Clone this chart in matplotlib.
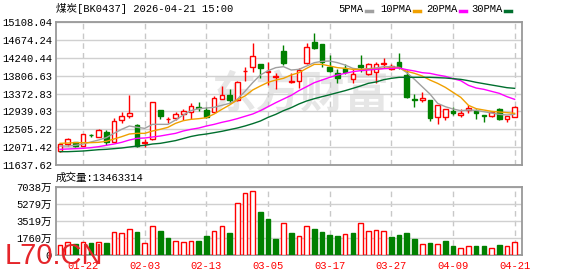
import matplotlib
matplotlib.use('Agg')
import matplotlib.pyplot as plt
from matplotlib.patches import Rectangle
from matplotlib.lines import Line2D

plt.rcParams['font.family'] = ['Liberation Mono', 'Noto Sans CJK SC', 'DejaVu Sans']

#=====data===================================#
dates = ['01-19', '01-20', '01-21', '01-22', '01-23', '01-26', '01-27', '01-28', '01-29', '01-30',
         '02-02', '02-03', '02-04', '02-05', '02-06', '02-09', '02-10', '02-11', '02-12', '02-13',
         '02-24', '02-25', '02-26', '02-27', '03-02', '03-03', '03-04', '03-05', '03-06', '03-09',
         '03-10', '03-11', '03-12', '03-13', '03-16', '03-17', '03-18', '03-19', '03-20', '03-23',
         '03-24', '03-25', '03-26', '03-27', '03-30', '03-31', '04-01', '04-02', '04-03', '04-07',
         '04-08', '04-09', '04-10', '04-13', '04-14', '04-15', '04-16', '04-17', '04-20', '04-21']

opens = [11978, 12140, 12188, 12106, 12365, 12325, 12431, 12203, 12738, 12834,
         12601, 12180, 12261, 12972, 12745, 12785, 12883, 12916, 13050, 12972,
         12932, 13248, 13336, 13215, 13910, 14016, 14089, 13895, 13780, 14411,
         13650, 13684, 14106, 14615, 14567, 14023, 13862, 13984, 13725, 14057,
         13838, 13887, 14100, 13960, 14130, 13822, 13248, 13208, 13215, 12795,
         12795, 12956, 12843, 12972, 12948, 12850, 12834, 12989, 12754, 12795]
highs = [12150, 12293, 12200, 12390, 12390, 12500, 12487, 12779, 12932, 13336,
         12633, 12261, 13159, 12980, 12810, 12916, 12989, 13135, 13159, 13038,
         13313, 13555, 13475, 13676, 14016, 14598, 14089, 14130, 13862, 14550,
         13860, 13984, 14606, 14834, 14575, 14307, 13960, 14081, 14000, 14307,
         14106, 14145, 14227, 14081, 14348, 13943, 13361, 13416, 13215, 13094,
         13000, 13038, 12989, 13094, 12989, 12860, 12916, 13013, 12835, 13070]
lows = [11965, 12098, 12075, 12100, 12310, 12315, 12130, 12195, 12649, 12785,
        12074, 12082, 12255, 12761, 12649, 12729, 12730, 12761, 12956, 12770,
        12930, 13240, 13151, 13190, 13676, 13895, 13756, 13578, 13482, 14065,
        13620, 13499, 14089, 14453, 14023, 13902, 13620, 13846, 13620, 13902,
        13822, 13620, 13984, 13935, 13960, 13256, 13053, 13175, 12714, 12632,
        12730, 12851, 12795, 12892, 12761, 12673, 12810, 12730, 12689, 12795]
closes = [12140, 12261, 12098, 12382, 12355, 12487, 12203, 12706, 12819, 12892,
          12098, 12196, 13159, 12834, 12760, 12868, 12948, 13062, 13030, 12810,
          13264, 13329, 13215, 13652, 13930, 14290, 14000, 13920, 13800, 14106,
          13665, 13943, 14494, 14480, 14130, 13926, 13741, 13887, 13838, 14008,
          14081, 14089, 14115, 14049, 14023, 13281, 13224, 13264, 12771, 13094,
          12997, 12892, 12900, 13013, 12892, 12838, 12916, 12754, 12819, 13038]

ma5 = [12098, 12098, 12115, 12147, 12196, 12244, 12301, 12406, 12503, 12584,
       12552, 12527, 12624, 12624, 12624, 12730, 12851, 12956, 13005, 13021,
       13037, 13086, 13134, 13231, 13425, 13636, 13822, 13927, 14000, 14024,
       13943, 13959, 14040, 14121, 14153, 14161, 14121, 14064, 13983, 13959,
       13975, 13992, 14024, 14024, 14008, 13878, 13716, 13538, 13361, 13134,
       13053, 12997, 12956, 12972, 12964, 12932, 12900, 12867, 12851, 12867]
ma10 = [12163, 12171, 12180, 12180, 12180, 12188, 12212, 12268, 12325, 12390,
        12406, 12406, 12463, 12503, 12552, 12649, 12713, 12746, 12762, 12786,
        12875, 12988, 13094, 13215, 13312, 13458, 13555, 13644, 13700, 13741,
        13822, 13878, 13983, 14080, 14080, 14040, 14000, 13983, 13959, 13959,
        13959, 13967, 13983, 14000, 14000, 13911, 13862, 13797, 13700, 13619,
        13522, 13401, 13280, 13086, 13005, 12972, 12940, 12924, 12908, 12891]
ma20 = [12018, 12026, 12034, 12042, 12058, 12082, 12115, 12147, 12188, 12244,
        12285, 12293, 12317, 12341, 12374, 12406, 12463, 12503, 12535, 12584,
        12624, 12673, 12713, 12762, 12819, 12875, 12956, 13053, 13150, 13239,
        13328, 13442, 13538, 13636, 13700, 13765, 13822, 13862, 13903, 13927,
        13943, 13959, 13975, 13983, 13992, 13951, 13919, 13878, 13862, 13822,
        13789, 13733, 13684, 13571, 13506, 13474, 13425, 13377, 13296, 13231]
ma30 = [11961, 11961, 11969, 11977, 11993, 12009, 12018, 12034, 12050, 12074,
        12098, 12115, 12147, 12163, 12196, 12230, 12280, 12330, 12366, 12390,
        12422, 12455, 12495, 12535, 12584, 12641, 12705, 12794, 12867, 12956,
        13029, 13118, 13191, 13247, 13296, 13344, 13393, 13442, 13498, 13555,
        13619, 13652, 13708, 13741, 13765, 13765, 13765, 13765, 13765, 13757,
        13749, 13733, 13716, 13684, 13644, 13611, 13579, 13547, 13514, 13498]

# volume in 万
volumes = [1099, 1339, 1133, 1408, 1236, 1408, 1236, 2437, 2334, 2746,
           2369, 1305, 3055, 2472, 1751, 1510, 1408, 1510, 1442, 1957,
           2540, 3055, 2266, 5321, 6351, 6557, 4429, 3708, 1648, 3364,
           2300, 1957, 2987, 2678, 2369, 2060, 1957, 2163, 2300, 3296,
           2472, 2643, 2472, 1854, 2060, 2266, 1648, 1202, 1236, 1133,
           1442, 927, 790, 996, 927, 927, 790, 1030, 996, 1346]

price_ticks = [11637.62, 12071.42, 12505.22, 12939.03, 13372.83,
               13806.63, 14240.44, 14674.24, 15108.04]
vol_ticks = [0, 1760, 3519, 5279, 7038]
vol_labels = ['0', '1760万', '3519万', '5279万', '7038万']

ma_names = ['5PMA', '10PMA', '20PMA', '30PMA']
ma_colors = ['#a0a0a0', '#f0a000', '#ff00ff', '#006f2e']

title = '煤炭[BK0437] 2026-04-21 15:00'
vol_title = '成交量:13463314'

RED = '#ff0000'
GREEN = '#008000'

#=====figure / panels===============#
W, H = 578, 276
fig = plt.figure(figsize=(W / 100, H / 100), dpi=100)


def fx(px):
    return px / W


def fy(py):
    return 1 - py / H


ax = fig.add_axes([fx(56), fy(165), fx(522) - fx(56), fy(22) - fy(165)])
axv = fig.add_axes([fx(56), fy(255.3), fx(522) - fx(56), fy(186.7) - fy(255.3)])

n = len(closes)
xs = list(range(n))
tick_pos = list(range(3, n, 8))

# candles
for i in xs:
    o, h, l, c = opens[i], highs[i], lows[i], closes[i]
    up = c >= o
    col = RED if up else GREEN
    ax.vlines(i, l, h, color=col, lw=1, zorder=3)
    ax.add_patch(Rectangle((i - 0.3, min(o, c)), 0.6, max(abs(c - o), 4),
                           facecolor='white' if up else col, edgecolor=col,
                           lw=1, zorder=4))

for vals, col in zip([ma5, ma10, ma20, ma30], ma_colors):
    ax.plot(xs, vals, color=col, lw=1, zorder=5)

# watermark
ax.text(fx(300), fy(95), '东方财富', transform=fig.transFigure, fontsize=32,
        color='#e6e6e6', fontweight='bold', family='Noto Sans CJK SC',
        ha='center', va='center', zorder=1)

# volume bars, colour by close vs previous close
prev = [closes[0] - 1] + closes[:-1]
faces = ['white' if c >= p else GREEN for c, p in zip(closes, prev)]
edges = [RED if c >= p else GREEN for c, p in zip(closes, prev)]
axv.bar(xs, volumes, width=0.6, color=faces, edgecolor=edges, lw=1, zorder=3)

#=====axes styling===============#
for a in (ax, axv):
    a.set_xlim(-0.52, n - 0.05)
    a.set_xticks(tick_pos)
    a.grid(axis='y', color='#d0d0d0', lw=1, zorder=0)
    a.grid(axis='x', color='#c8c8c8', lw=1, ls=(0, (4, 3)), zorder=0)
    a.tick_params(length=0, labelsize=7.6, pad=3)
    for s in a.spines.values():
        s.set_color('#999999')
        s.set_linewidth(1.3)

ax.set_ylim(price_ticks[0], price_ticks[-1])
ax.set_yticks(price_ticks)
ax.set_yticklabels(['%.2f' % v for v in price_ticks])
ax.tick_params(labelbottom=False)

axv.set_ylim(0, vol_ticks[-1])
axv.set_yticks(vol_ticks)
axv.set_yticklabels(vol_labels)
axv.set_xticklabels([dates[i] for i in tick_pos], color=RED)
axv.tick_params(axis='x', pad=4)

#=====texts===============#
fig.text(fx(56), fy(9), title, fontsize=7.6, va='center', ha='left')
fig.text(fx(56), fy(177.5), vol_title, fontsize=7.6, va='center', ha='left')

# legend
leg_x = [338, 380, 426, 471]
for name, col, lx in zip(ma_names, ma_colors, leg_x):
    t = fig.text(fx(lx), fy(9), name, fontsize=7.6, va='center', ha='left')
    fig.canvas.draw()
    bb = t.get_window_extent()
    x0 = bb.x1 / W + fx(3)
    fig.add_artist(Line2D([x0, x0 + fx(6)], [fy(10.5), fy(10.5)], color=col, lw=2.5))

fig.text(fx(5), fy(256), 'L70.CN', fontsize=21, color='#e5252a',
         family='Liberation Sans', va='center', ha='left', zorder=10)

fig.savefig('out.png', dpi=100)
